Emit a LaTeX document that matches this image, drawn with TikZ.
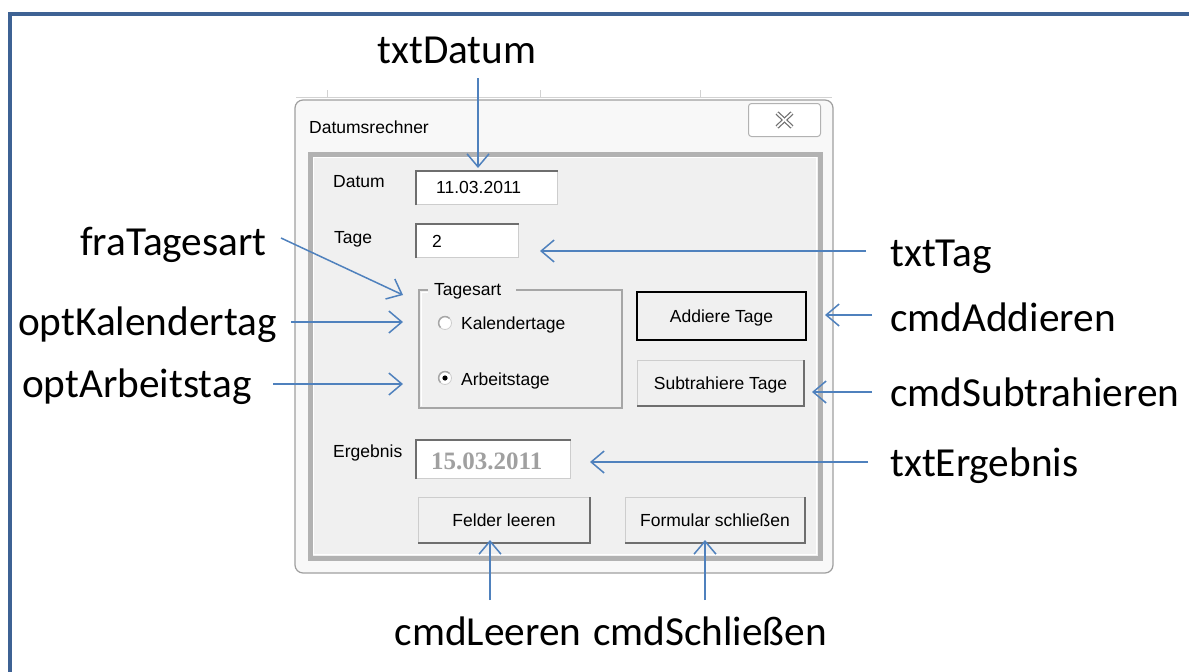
\documentclass[tikz,border=0pt]{standalone}
\usepackage{fontspec}
\setmainfont{Carlito}
\newfontfamily\dlgfont{Liberation Sans}
\newfontfamily\resfont{Liberation Serif}
\usetikzlibrary{arrows.meta}
\definecolor{framecol}{RGB}{62,98,148}
\definecolor{arrowblue}{RGB}{79,129,189}
\definecolor{dlgbg}{RGB}{240,240,240}
\definecolor{winbg}{RGB}{248,248,248}
\definecolor{darkedge}{RGB}{110,110,110}
\definecolor{lightedge}{RGB}{205,205,205}
\definecolor{resgray}{RGB}{160,160,160}
\tikzset{
  lbl/.style={font=\fontsize{41.3}{45}\selectfont, inner sep=0pt, text height=26.5pt, text depth=0pt},
  ptr/.style={draw=arrowblue, line width=1.5pt, -{Straight Barb[length=13pt,width=22pt,line width=1.5pt]}},
  dtext/.style={font=\dlgfont\fontsize{17.5}{20}\selectfont, inner sep=0pt, text height=12.5pt, text depth=0pt},
  sunken/.style={fill=white, draw=lightedge, line width=1pt, inner sep=0pt},
  btnbox/.style={fill=dlgbg, draw=lightedge, line width=1pt, inner sep=0pt},
}
\begin{document}
\begin{tikzpicture}[x=1pt,y=-1pt]
\useasboundingbox (0,0) rectangle (1189,672);
\clip (0,0) rectangle (1189,672);
\fill[white] (0,0) rectangle (1189,672);
% outer blue frame
\draw[framecol, line width=4pt] (10,14) rectangle (1210,700);

% faint background grid line above dialog
\draw[gray!35, line width=0.8pt] (296,97) -- (832,97);
\foreach \gx in {327,540,700} \draw[gray!35, line width=0.8pt] (\gx,90) -- (\gx,97);

% window
\draw[draw=gray!75, fill=winbg, line width=1.2pt, rounded corners=8pt] (295,100) rectangle (833,573);
% client area
\draw[draw=gray!60, line width=5pt, fill=dlgbg] (310,154) rectangle (820,558);
\draw[draw=white, line width=1pt] (313.5,157.5) rectangle (816.5,554.5);

% title and close button
\node[dtext, anchor=west] (title) at (309,127) {Datumsrechner};
\node[draw=gray!60, fill=white, line width=1pt, rounded corners=3pt, minimum width=72pt, minimum height=33pt, anchor=north west, inner sep=0pt] (closebtn) at (748,103) {};
\draw[darkedge, line width=4.2pt] ([xshift=-7.5pt,yshift=7pt]closebtn.center) -- ([xshift=7.5pt,yshift=-7pt]closebtn.center);
\draw[darkedge, line width=4.2pt] ([xshift=-7.5pt,yshift=-7pt]closebtn.center) -- ([xshift=7.5pt,yshift=7pt]closebtn.center);
\draw[white, line width=1.8pt] ([xshift=-7.5pt,yshift=7pt]closebtn.center) -- ([xshift=7.5pt,yshift=-7pt]closebtn.center);
\draw[white, line width=1.8pt] ([xshift=-7.5pt,yshift=-7pt]closebtn.center) -- ([xshift=7.5pt,yshift=7pt]closebtn.center);

% Datum
\node[dtext, anchor=west] (datumlbl) at (333,181) {Datum};
\node[sunken, minimum width=141pt, minimum height=33pt, anchor=north west] (datumbox) at (416,171) {};
\draw[darkedge, line width=1.5pt] (datumbox.south west) -- (datumbox.north west) -- (datumbox.north east);
\node[dtext, anchor=west] (datumval) at (436,187) {11.03.2011};

% Tage
\node[dtext, anchor=west] (tagelbl) at (334,237) {Tage};
\node[sunken, minimum width=102pt, minimum height=33pt, anchor=north west] (tagebox) at (416,224) {};
\draw[darkedge, line width=1.5pt] (tagebox.south west) -- (tagebox.north west) -- (tagebox.north east);
\node[dtext, anchor=west] (tageval) at (432,241) {2};

% Tagesart frame
\draw[gray!70, line width=1.5pt] (428,290) -- (419,290) -- (419,408) -- (622,408) -- (622,290) -- (516,290);
\draw[white, line width=1pt] (428,292) -- (421,292) -- (421,406);
\node[dtext, anchor=west] (fracap) at (434,289) {Tagesart};
% radio buttons
\node[circle, fill=white, draw=lightedge, line width=0.8pt, minimum size=13pt, inner sep=0pt] (radkal) at (445,323) {};
\draw[gray!70, line width=1.5pt] ([shift={(-4.5pt,-4.5pt)}]radkal.center) arc[start angle=225, end angle=45, radius=6.4pt];
\node[dtext, anchor=west] (kaltext) at (461,323) {Kalendertage};
\node[circle, fill=white, draw=lightedge, line width=0.8pt, minimum size=13pt, inner sep=0pt] (radarb) at (445,378) {};
\draw[gray!70, line width=1.5pt] ([shift={(-4.5pt,-4.5pt)}]radarb.center) arc[start angle=225, end angle=45, radius=6.4pt];
\fill[black] (radarb.center) circle (2.6pt);
\node[dtext, anchor=west] (arbtext) at (461,379) {Arbeitstage};

% Addiere Tage button
\node[btnbox, minimum width=168pt, minimum height=47pt, anchor=north west] (addbtn) at (637,292) {};
\draw[black, line width=2.5pt] (addbtn.north west) rectangle (addbtn.south east);
\node[dtext] (addtext) at (addbtn.center) {Addiere Tage};

% Subtrahiere Tage button
\node[btnbox, minimum width=166pt, minimum height=45pt, anchor=north west] (subbtn) at (637,360) {};
\draw[darkedge, line width=2pt] (subbtn.south west) -- (subbtn.south east) -- (subbtn.north east);
\node[dtext] (subtext) at (subbtn.center) {Subtrahiere Tage};

% Ergebnis
\node[dtext, anchor=west] (erglbl) at (333,451) {Ergebnis};
\node[sunken, minimum width=154pt, minimum height=38pt, anchor=north west] (ergbox) at (416,440) {};
\draw[darkedge, line width=1.5pt] (ergbox.south west) -- (ergbox.north west) -- (ergbox.north east);
\node[font=\resfont\bfseries\fontsize{25}{28}\selectfont, text=resgray, inner sep=0pt, text height=16.5pt, text depth=0pt, anchor=west] (ergval) at (431,461) {15.03.2011};

% bottom buttons
\node[btnbox, minimum width=171pt, minimum height=45pt, anchor=north west] (leerbtn) at (418,497) {};
\draw[darkedge, line width=2pt] (leerbtn.south west) -- (leerbtn.south east) -- (leerbtn.north east);
\node[dtext] (leertext) at (leerbtn.center) {Felder leeren};
\node[btnbox, minimum width=179pt, minimum height=45pt, anchor=north west] (schlbtn) at (625,497) {};
\draw[darkedge, line width=2pt] (schlbtn.south west) -- (schlbtn.south east) -- (schlbtn.north east);
\node[dtext] (schltext) at (schlbtn.center) {Formular schließen};

% annotation labels
\node[lbl] (lDatum) at (457,50) {txtDatum};
\node[lbl, anchor=west] (lFra) at (80,242) {fraTagesart};
\node[lbl, anchor=west] (lKal) at (18,322) {optKalendertag};
\node[lbl, anchor=west] (lArb) at (22,384) {optArbeitstag};
\node[lbl, anchor=west] (lTag) at (890,253) {txtTag};
\node[lbl, anchor=west] (lAdd) at (890,318) {cmdAddieren};
\node[lbl, anchor=west] (lSub) at (890,393) {cmdSubtrahieren};
\node[lbl, anchor=west] (lErg) at (890,463) {txtErgebnis};
\node[lbl] (lLeer) at (488,632) {cmdLeeren};
\node[lbl] (lSchl) at (710,632) {cmdSchließen};

% arrow end points
\coordinate (tDatum) at (478,168);
\coordinate (sDatum) at (478,78);
\coordinate (tFra) at (403,295);
\coordinate (sFra) at (281,238);
\coordinate (tKal) at (403,322);
\coordinate (sKal) at (291,322);
\coordinate (tArb) at (403,384);
\coordinate (sArb) at (273,384);
\coordinate (tTag) at (540,251);
\coordinate (sTag) at (866,251);
\coordinate (tAdd) at (825,315);
\coordinate (sAdd) at (872,315);
\coordinate (tSub) at (812,392);
\coordinate (sSub) at (872,392);
\coordinate (tErg) at (590,462);
\coordinate (sErg) at (868,462);
\coordinate (tLeer) at (490,540);
\coordinate (sLeer) at (490,600);
\coordinate (tSchl) at (705,540);
\coordinate (sSchl) at (705,600);

\draw[ptr] (sDatum) -- (tDatum);
\draw[ptr] (sFra) -- (tFra);
\draw[ptr] (sKal) -- (tKal);
\draw[ptr] (sArb) -- (tArb);
\draw[ptr] (sTag) -- (tTag);
\draw[ptr] (sAdd) -- (tAdd);
\draw[ptr] (sSub) -- (tSub);
\draw[ptr] (sErg) -- (tErg);
\draw[ptr] (sLeer) -- (tLeer);
\draw[ptr] (sSchl) -- (tSchl);
\end{tikzpicture}
\end{document}
